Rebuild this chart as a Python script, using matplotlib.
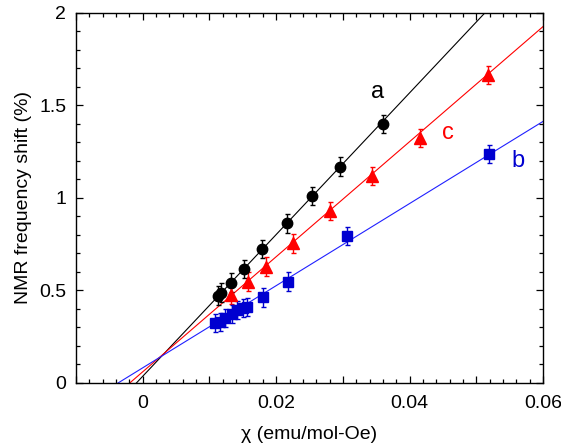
import numpy as np
import matplotlib
matplotlib.use("Agg")
import matplotlib.pyplot as plt
from matplotlib.ticker import MultipleLocator, FuncFormatter

plt.rcParams['font.family'] = ['Liberation Sans', 'DejaVu Sans']

# susceptibility (emu/mol-Oe) vs NMR shift (%)
chi_a = [0.0113, 0.0117, 0.0132, 0.0152, 0.0179, 0.0216, 0.0254, 0.0296, 0.0360]
shift_a = [0.472, 0.488, 0.542, 0.615, 0.723, 0.863, 1.011, 1.169, 1.400]

chi_c = [0.0133, 0.0158, 0.0185, 0.0225, 0.0281, 0.0344, 0.0415, 0.0517]
shift_c = [0.476, 0.548, 0.629, 0.755, 0.930, 1.119, 1.323, 1.665]

chi_b = [0.0108, 0.0116, 0.0123, 0.0134, 0.0141, 0.0150, 0.0156, 0.0180,
         0.0218, 0.0306, 0.0519]
shift_b = [0.323, 0.330, 0.351, 0.373, 0.395, 0.405, 0.410, 0.463,
           0.548, 0.795, 1.238]

err = 0.05

# linear fits: slope, intercept
fit_a = (38.3, 0.0364)
fit_c = (31.1, 0.0606)
fit_b = (22.2, 0.0821)

blue = '#0000d0'

fig = plt.figure(figsize=(5.61, 4.48), dpi=100)
ax = fig.add_axes([0.1355, 0.1451, 0.8325, 0.8259])

xx = np.array([-0.01, 0.06])
for (m, q), col in [(fit_a, 'black'), (fit_c, 'red'), (fit_b, '#2020ff')]:
    ax.plot(xx, m * xx + q, color=col, lw=0.8, zorder=1)

ax.errorbar(chi_a, shift_a, yerr=err, fmt='o', color='black', ms=7.5,
            elinewidth=1, capsize=1.8, capthick=1, zorder=3)
ax.errorbar(chi_c, shift_c, yerr=err, fmt='^', color='red', ms=8,
            elinewidth=1, capsize=1.8, capthick=1, zorder=3)
ax.errorbar(chi_b, shift_b, yerr=err, fmt='s', color=blue, ms=6.5,
            elinewidth=1, capsize=1.8, capthick=1, zorder=3)

ax.text(0.0352, 1.573, 'a', color='black', fontsize=17, ha='center', va='center')
ax.text(0.0457, 1.35, 'c', color='red', fontsize=17, ha='center', va='center')
ax.text(0.0562, 1.20, 'b', color=blue, fontsize=17, ha='center', va='center')

ax.set_xlim(-0.01, 0.06)
ax.set_ylim(0, 2)

ax.xaxis.set_major_locator(MultipleLocator(0.01))
ax.xaxis.set_minor_locator(MultipleLocator(0.002))
ax.yaxis.set_major_locator(MultipleLocator(0.5))
ax.yaxis.set_minor_locator(MultipleLocator(0.1))


def xfmt(v, pos):
    k = int(round(v / 0.01))
    if k % 2:
        return ''
    return '0' if k == 0 else f'{v:.2f}'


def yfmt(v, pos):
    return f'{v:g}'


ax.xaxis.set_major_formatter(FuncFormatter(xfmt))
ax.yaxis.set_major_formatter(FuncFormatter(yfmt))
ax.tick_params(which='both', direction='in', top=True, right=True,
               labelsize=14, width=0.9)
ax.tick_params(which='major', length=5)
ax.tick_params(axis='x', which='major', pad=9)
ax.tick_params(axis='y', which='major', pad=7)
ax.tick_params(which='minor', length=3)
for s in ax.spines.values():
    s.set_linewidth(1)

ax.set_xlabel('χ (emu/mol-Oe)', fontsize=14, labelpad=10)
ax.set_ylabel('NMR frequency shift (%)', fontsize=14, labelpad=5)

fig.savefig('out.png', dpi=100)
